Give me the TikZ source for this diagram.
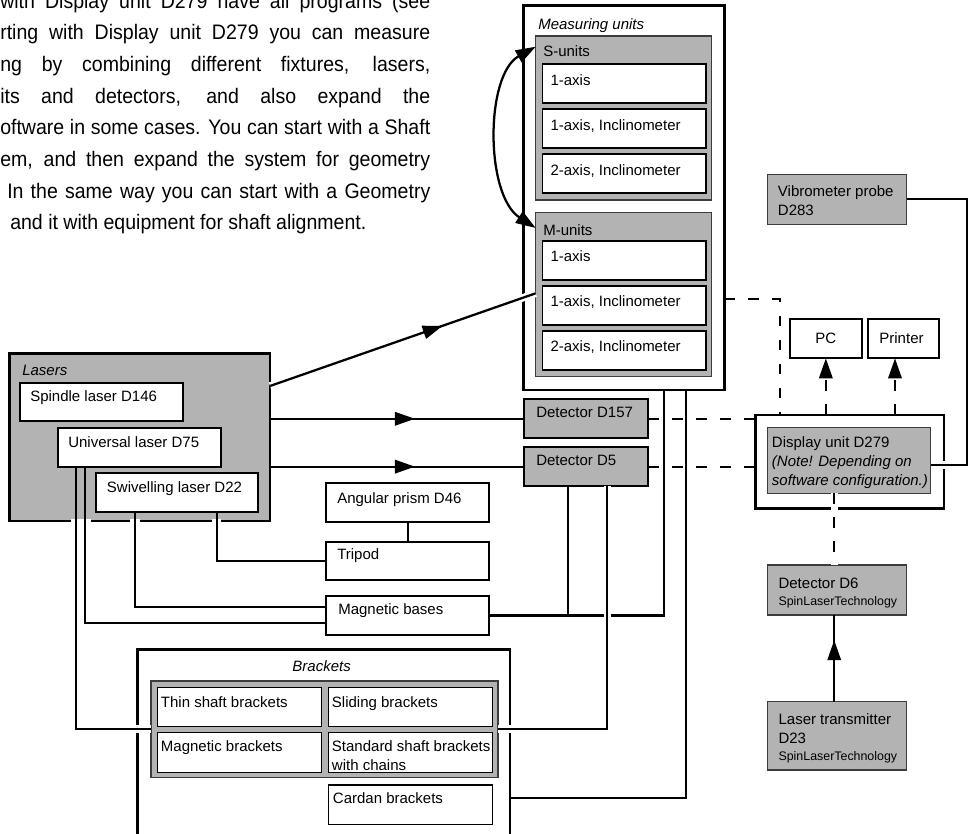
\documentclass[tikz,border=0pt]{standalone}
\usepackage{fontspec}
\setmainfont{Liberation Sans}
\newfontfamily\parafont[FakeStretch=0.93]{Liberation Sans}
\usetikzlibrary{arrows.meta,fit,decorations.markings,calc}
\definecolor{boxgray}{RGB}{179,179,179}
\definecolor{gline}{RGB}{60,60,60}
\newcommand\dfont{\fontsize{11.25}{13.5}\selectfont}
\newcommand\sfont{\fontsize{9.3}{11}\selectfont}
\newcommand\pfont{\parafont\fontsize{15.75}{19}\selectfont}
\newcommand\intext[6]{\node[#6] (#1#2) at ([shift={(#3,#4)}]#1.north west) {#5};}
\tikzset{
 bx/.style={inner sep=0pt, outer sep=0pt},
 outerbox/.style={bx, draw=black, line width=2pt, fill=white},
 graybox/.style={bx, draw=gline, line width=1pt, fill=boxgray},
 darkgray/.style={bx, draw=black, line width=1.7pt, fill=boxgray},
 whitebox/.style={bx, draw=black, line width=1.7pt, fill=white},
 thinbox/.style={bx, draw=black, line width=1.2pt, fill=white},
 lb/.style={anchor=base west, inner sep=0pt, font=\dfont},
 lbi/.style={lb, font=\dfont\itshape},
 lbs/.style={lb, font=\sfont},
 para/.style={anchor=base west, inner sep=0pt, font=\pfont},
 conn/.style={line width=1.7pt, line cap=butt, line join=miter},
 dconn/.style={conn, dash pattern=on 8pt off 10pt},
 endtip/.style={-{Triangle[length=15pt,width=10pt]}},
 midarrow/.style={postaction={decorate}, decoration={markings, mark=at position #1 with {\arrow{Triangle[length=15pt,width=10pt]}}}},
 halo/.style={preaction={draw=white, line width=5.5pt, solid}},
 gapmark/.style={draw=white, line width=2.6pt},
}
\begin{document}
\begin{tikzpicture}[x=0.75pt,y=-0.75pt]
\useasboundingbox (0,0) rectangle (968,834);

% ---------- paragraph ----------
\node[para] (p1) at (0,8.3) {\makebox[322.5pt][s]{with Display unit D279 have all programs (see}};
\node[para] (p2) at (0,40) {\makebox[322.5pt][s]{rting with Display unit D279 you can measure}};
\node[para] (p3) at (0,71.7) {\makebox[322.5pt][s]{ng by combining different fixtures, lasers,}};
\node[para] (p4) at (0,103.3) {\makebox[322.5pt][s]{its and detectors, and also expand the}};
\node[para] (p5) at (0,135) {\makebox[322.5pt][s]{oftware in some cases. You can start with a Shaft}};
\node[para] (p6) at (0,166.7) {\makebox[322.5pt][s]{em, and then expand the system for geometry}};
\node[para] (p7) at (7,198.3) {\makebox[317.3pt][s]{In the same way you can start with a Geometry}};
\node[para] (p8) at (10,230) {and it with equipment for shaft alignment.};

% ---------- measuring units ----------
\node[outerbox, fit={(523.3,5.7)(724.3,390)}] (mu) {};
\intext{mu}{t}{14.7}{24.3}{Measuring units}{lbi}
\node[graybox, fit={(535.7,36)(711.7,200)}] (su) {};
\intext{su}{t}{7.3}{21}{S-units}{lb}
\node[thinbox, fit={(542.3,64.3)(706,103.3)}] (su1) {};
\intext{su1}{t}{8}{21}{1-axis}{lb}
\node[thinbox, fit={(542.3,109.3)(706,148.3)}] (su2) {};
\intext{su2}{t}{8}{21}{1-axis, Inclinometer}{lb}
\node[thinbox, fit={(542.3,154.3)(706,193.3)}] (su3) {};
\intext{su3}{t}{8}{21}{2-axis, Inclinometer}{lb}
\node[graybox, fit={(535.7,212.7)(711.7,376.7)}] (mus) {};
\intext{mus}{t}{7.3}{22.5}{M-units}{lb}
\node[thinbox, fit={(542.3,241)(706,280)}] (mu1) {};
\intext{mu1}{t}{8}{21}{1-axis}{lb}
\node[thinbox, fit={(542.3,286)(706,325)}] (mu2) {};
\intext{mu2}{t}{8}{21}{1-axis, Inclinometer}{lb}
\node[thinbox, fit={(542.3,331)(706,370)}] (mu3) {};
\intext{mu3}{t}{8}{21}{2-axis, Inclinometer}{lb}

% ---------- lasers ----------
\node[darkgray, line width=2pt, fit={(9.3,353.3)(270,521)}] (lasers) {};
\intext{lasers}{t}{12.7}{22}{Lasers}{lbi}
\node[whitebox, fit={(20,382.7)(182.7,421)}] (d146) {};
\intext{d146}{t}{10}{19.3}{Spindle laser D146}{lb}
\node[whitebox, fit={(57.7,428.3)(220.7,466.7)}] (d75) {};
\intext{d75}{t}{10.3}{18.7}{Universal laser D75}{lb}
\node[whitebox, fit={(95.7,473.3)(258.3,511.7)}] (d22) {};
\intext{d22}{t}{11}{18.7}{Swivelling laser D22}{lb}

% ---------- detectors and accessories ----------
\node[darkgray, fit={(524.3,399.3)(648.3,438.3)}] (d157) {};
\intext{d157}{t}{11.7}{17.7}{Detector D157}{lb}
\node[darkgray, fit={(524.3,447.3)(648.3,486)}] (d5) {};
\intext{d5}{t}{11.7}{18}{Detector D5}{lb}
\node[whitebox, fit={(326,483.3)(489.3,522.3)}] (prism) {};
\intext{prism}{t}{11}{20.3}{Angular prism D46}{lb}
\node[whitebox, fit={(326,541.7)(489.3,580)}] (tripod) {};
\intext{tripod}{t}{11}{17.6}{Tripod}{lb}
\node[whitebox, fit={(326,596)(489.3,635)}] (mag) {};
\intext{mag}{t}{12}{18.6}{Magnetic bases}{lb}

% ---------- brackets ----------
\node[outerbox, fit={(137.3,649.3)(510,850)}] (brk) {};
\node[lbi, anchor=base] (brkt) at ([shift={(-2,21.7)}]brk.north) {Brackets};
\node[graybox, line width=1.2pt, fit={(150.7,680.7)(497.7,777.3)}] (bgray) {};
\node[thinbox, line width=1pt, fit={(157.3,687.3)(321.7,726.7)}] (thin) {};
\intext{thin}{t}{3.4}{19.7}{Thin shaft brackets}{lb}
\node[thinbox, line width=1pt, fit={(328.3,687.3)(492.3,726.7)}] (slide) {};
\intext{slide}{t}{3.4}{19.7}{Sliding brackets}{lb}
\node[thinbox, line width=1pt, fit={(157.3,732.7)(321.7,772.7)}] (magb) {};
\intext{magb}{t}{3.4}{18.6}{Magnetic brackets}{lb}
\node[thinbox, line width=1pt, fit={(328.3,732.7)(492.3,772.7)}] (std) {};
\intext{std}{t}{3.4}{18.6}{Standard shaft brackets}{lb}
\intext{std}{u}{3.4}{37.6}{with chains}{lb}
\node[thinbox, line width=1pt, fit={(328.3,785)(492.3,824.3)}] (cardan) {};
\intext{cardan}{t}{4.4}{18}{Cardan brackets}{lb}

% ---------- right side ----------
\node[graybox, fit={(767.7,174.3)(906.7,224.3)}] (vib) {};
\intext{vib}{t}{10}{22}{Vibrometer probe}{lb}
\intext{vib}{u}{10}{41}{D283}{lb}
\node[whitebox, fit={(790,319.3)(861.7,358.3)}] (pc) {};
\node[lb, anchor=base] (pct) at ([shift={(0,24.3)}]pc.north) {PC};
\node[whitebox, fit={(867.7,319.3)(939.3,358.3)}] (printer) {};
\node[lb, anchor=base] (printert) at ([shift={(-2,24.3)}]printer.north) {Printer};
\node[outerbox, fit={(755.7,415)(944,508.3)}] (disp) {};
\node[graybox, fit={(767.7,427.3)(930.7,493.3)}] (dgray) {};
\intext{dgray}{t}{4}{19.7}{Display unit D279}{lb}
\intext{dgray}{u}{4}{39}{(Note! Depending on}{lbi}
\intext{dgray}{v}{4}{58.2}{software configuration.)}{lbi}
\node[graybox, fit={(767.7,565)(906.7,615)}] (d6) {};
\intext{d6}{t}{10.6}{23}{Detector D6}{lb}
\intext{d6}{u}{10.6}{40.4}{SpinLaserTechnology}{lbs}
\node[graybox, fit={(767.7,701.7)(906.7,770)}] (d23) {};
\intext{d23}{t}{10.6}{22.6}{Laser transmitter}{lb}
\intext{d23}{u}{10.6}{41.3}{D23}{lb}
\intext{d23}{v}{10.6}{58.3}{SpinLaserTechnology}{lbs}

% ---------- gaps in the lasers border ----------
\draw[gapmark] ([shift={(61.7,0)}]lasers.south west) -- ++(20,0);
\draw[gapmark] ([shift={(120.7,0)}]lasers.south west) -- ++(10,0);
\draw[gapmark] ([shift={(202.7,0)}]lasers.south west) -- ++(9,0);

% ---------- connectors ----------
\draw[conn, halo, midarrow=0.65] ([shift={(0,32.7)}]lasers.north east) -- ([shift={(0,80.6)}]mus.north west);
\draw[conn, midarrow=0.57] (lasers.east |- d157.west) -- (d157.west);
\draw[conn, midarrow=0.57] (lasers.east |- d5.west) -- (d5.west);

\coordinate (cs) at ([shift={(0,10.7)}]su.north west);
\coordinate (ce) at ([shift={(0,15.3)}]mus.north west);
\draw[white, line width=5.5pt, shorten <=14pt, shorten >=14pt] (cs) .. controls ($(cs)+(-50.7,28.3)$) and ($(ce)+(-50.7,-33)$) .. (ce);
\draw[conn, {Triangle[length=15pt,width=10pt]}-{Triangle[length=15pt,width=10pt]}] (cs) .. controls ($(cs)+(-50.7,28.3)$) and ($(ce)+(-50.7,-33)$) .. (ce);

\draw[conn] (prism.south) -- (tripod.north);
\draw[conn] ([shift={(-41,0)}]d22.south east) |- (tripod.west);
\draw[conn] ([shift={(39.3,0)}]d22.south west) |- ([shift={(0,11)}]mag.north west);
\draw[conn] ([shift={(27.3,0)}]d75.south west) |- ([shift={(0,27.3)}]mag.north west);
\draw[conn, halo] ([shift={(18,0)}]d75.south west) ++(0,60) coordinate (d75c) -- (d75c |- bgray.west) -- (bgray.west);
\draw[conn] ([shift={(18,0)}]d75.south west) -- (d75c);

\draw[conn] (mag.east) -| ([shift={(-60,0)}]mu.south east);
\coordinate (d5a) at ([shift={(43.4,0)}]d5.south west);
\draw[conn] (d5a) -- (d5a |- mag.east);
\coordinate (d5b) at ([shift={(83,0)}]d5.south west);
\draw[conn, halo] (d5b) |- (bgray.east);
\coordinate (mub) at ([shift={(-38.6,0)}]mu.south east);
\draw[conn] (mub) |- ([shift={(0,148.7)}]brk.north east);

\draw[conn, halo] (vib.east) -- ([shift={(60,0)}]vib.east) |- ([shift={(0,37.7)}]dgray.north east);

\draw[dconn] ([shift={(0,101.4)}]mu.east) -| ([shift={(24.3,0)}]disp.north west);
\draw[dconn] (d157.east) -- (disp.west |- d157.east);
\draw[dconn] (d5.east) -- (disp.west |- d5.east);
\draw[dconn, endtip] (pc.south |- disp.north) -- (pc.south);
\coordinate (prb) at ([shift={(-8.5,0)}]printer.south);
\draw[dconn, endtip] (prb |- disp.north) -- (prb);
\coordinate (d6t) at ([shift={(-3,0)}]d6.north);
\draw[dconn, halo] (d6t |- dgray.south) -- (d6t);
\draw[conn, midarrow=0.71] ([shift={(-3,0)}]d23.north) -- ([shift={(-3,0)}]d6.south);
\end{tikzpicture}
\end{document}
